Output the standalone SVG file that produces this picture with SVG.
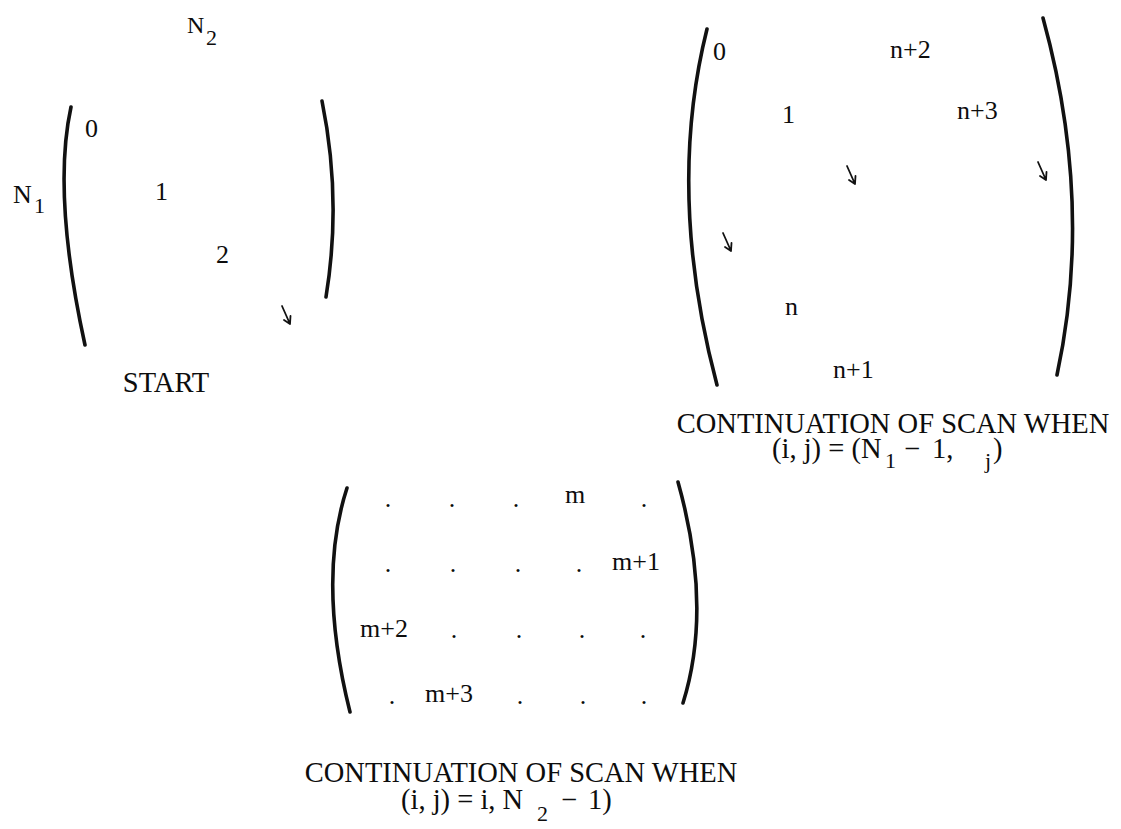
<svg xmlns="http://www.w3.org/2000/svg" width="1121" height="829" viewBox="0 0 1121 829">
<style>
text{font-family:"Liberation Serif","Times New Roman",serif;fill:#0d0d0d}
.e{font-size:26px}
.c{font-size:28.5px}
.cs{font-size:22px}
.d{font-size:26px;text-anchor:middle}
.p{fill:none;stroke:#111;stroke-width:3.6;stroke-linecap:round}
.a{fill:none;stroke:#111;stroke-width:1.8;stroke-linecap:round;stroke-linejoin:round}
</style>
<defs>
<path id="arr" class="a" d="M-8,-18 L0,0 M0.5,-8 L0,0 L-6,-4"/>
</defs>
<rect width="1121" height="829" fill="#fff"/>

<g id="matrix-start">
<path class="p" d="M71,107 Q52,194 85,345"/>
<path class="p" d="M322,101 Q342,199 326,297"/>
<text x="187" y="33" style="font-size:24px">N<tspan x="206" y="45" style="font-size:22px">2</tspan></text>
<text class="e" x="13" y="203">N<tspan x="34" y="213" style="font-size:22px">1</tspan></text>
<text class="e" x="85" y="137">0</text>
<text class="e" x="155" y="200">1</text>
<text class="e" x="216" y="263">2</text>
<use href="#arr" x="290" y="324"/>
<text class="c" x="166" y="392" text-anchor="middle">START</text>
</g>

<g id="matrix-continuation-1">
<path class="p" d="M707,29 Q666,193 717,385"/>
<path class="p" d="M1043,18 Q1094,203 1057,375"/>
<text class="e" x="713" y="60">0</text>
<text class="e" x="890" y="58">n+2</text>
<text class="e" x="782" y="123">1</text>
<text class="e" x="957" y="119">n+3</text>
<text class="e" x="785" y="315">n</text>
<text class="e" x="833" y="378">n+1</text>
<use href="#arr" x="855" y="184"/>
<use href="#arr" x="1046" y="180"/>
<use href="#arr" x="731" y="251"/>
<text class="c"><tspan x="893" y="433" text-anchor="middle">CONTINUATION OF SCAN WHEN</tspan><tspan x="772" y="458" text-anchor="start">(i, j) = (N</tspan><tspan class="cs" x="885" y="468" text-anchor="start">1</tspan><tspan x="904" y="458" text-anchor="start">−</tspan><tspan x="932" y="458" text-anchor="start">1,</tspan><tspan class="cs" x="985" y="468" text-anchor="start">j</tspan><tspan x="993" y="458" text-anchor="start">)</tspan></text>
</g>

<g id="matrix-continuation-2">
<path class="p" d="M347,488 Q317,580 350,712"/>
<path class="p" d="M678,482 Q713,607 683,703"/>
<text class="d" x="388" y="507">.</text>
<text class="d" x="452" y="507">.</text>
<text class="d" x="516" y="507">.</text>
<text class="e" x="565" y="503">m</text>
<text class="d" x="644" y="507">.</text>
<text class="d" x="388" y="572">.</text>
<text class="d" x="453" y="572">.</text>
<text class="d" x="518" y="572">.</text>
<text class="d" x="579" y="572">.</text>
<text class="e" x="612" y="570">m+1</text>
<text class="e" x="360" y="637">m+2</text>
<text class="d" x="454" y="638">.</text>
<text class="d" x="519" y="638">.</text>
<text class="d" x="582" y="638">.</text>
<text class="d" x="643" y="638">.</text>
<text class="d" x="392" y="704">.</text>
<text class="e" x="425" y="702">m+3</text>
<text class="d" x="520" y="704">.</text>
<text class="d" x="583" y="704">.</text>
<text class="d" x="644" y="704">.</text>
<text class="c"><tspan x="521" y="782" text-anchor="middle">CONTINUATION OF SCAN WHEN</tspan><tspan x="401" y="809" text-anchor="start">(i, j) = i, N</tspan><tspan class="cs" x="537" y="821" text-anchor="start">2</tspan><tspan x="561" y="809" text-anchor="start">−</tspan><tspan x="588" y="809" text-anchor="start">1)</tspan></text>
</g>
</svg>
